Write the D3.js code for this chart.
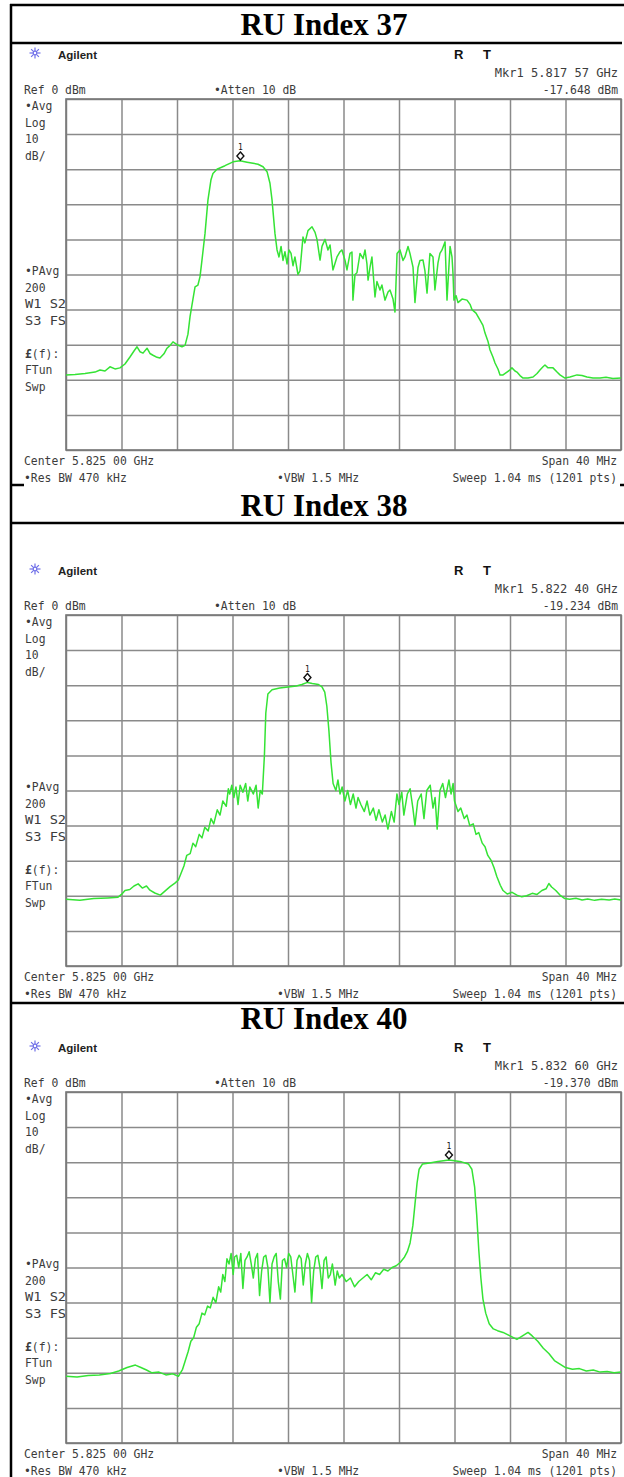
<!DOCTYPE html>
<html><head><meta charset="utf-8">
<script src="https://cdn.jsdelivr.net/npm/d3@7"></script>
<style>body{margin:0;background:#fff}svg{display:block}</style>
</head><body>
<script>
// ---------- data ----------
const titles = ["RU Index 37", "RU Index 38", "RU Index 40"];
const markerFreq = [-7.43, -2.60, 7.60];          // MHz from centre 5.825 GHz
const markerLevel = [-17.648, -19.234, -19.370];   // dBm
const markerFreqText = ["5.817 57 GHz", "5.822 40 GHz", "5.832 60 GHz"];
const markerLevelText = ["-17.648 dBm", "-19.234 dBm", "-19.370 dBm"];
const xTicks = [-20, -16, -12, -8, -4, 0, 4, 8, 12, 16, 20];       // MHz, 4 MHz/div
const yTicks = [0, -10, -20, -30, -40, -50, -60, -70, -80, -90, -100]; // dBm, 10 dB/div

const ru37Freq = [-20.00,-19.35,-18.63,-17.91,-17.55,-17.19,-16.83,-16.47,-16.11,-15.75,-15.39,-15.10,-14.88,-14.67,-14.45,-14.16,-13.95,-13.73,-13.44,-13.23,-12.94,-12.72,-12.50,-12.29,-12.00,-11.64,-11.42,-11.21,-11.06,-10.85,-10.70,-10.49,-10.34,-10.20,-9.98,-9.77,-9.55,-9.41,-9.12,-8.54,-7.96,-7.46,-6.95,-6.52,-6.16,-5.80,-5.51,-5.30,-5.15,-4.94,-4.79,-4.65,-4.50,-4.36,-4.22,-4.07,-3.93,-3.78,-3.64,-3.50,-3.28,-3.14,-2.92,-2.78,-2.56,-2.27,-2.05,-1.91,-1.69,-1.55,-1.33,-1.12,-0.97,-0.76,-0.47,-0.25,-0.11,0.11,0.25,0.47,0.61,0.68,0.83,0.97,1.19,1.41,1.55,1.69,1.77,1.91,2.05,2.27,2.41,2.63,2.77,2.99,3.21,3.35,3.57,3.71,3.86,4.07,4.29,4.43,4.65,4.79,5.01,5.15,5.37,5.51,5.73,5.87,6.02,6.23,6.45,6.59,6.81,6.95,7.10,7.32,7.46,7.68,7.82,7.89,7.96,8.11,8.25,8.54,8.90,9.12,9.26,9.55,9.84,10.05,10.20,10.41,10.56,10.77,10.92,11.14,11.28,11.50,11.78,12.00,12.14,12.36,12.50,12.72,12.94,13.30,13.66,13.95,14.16,14.38,14.52,14.74,15.10,15.39,15.60,15.96,16.32,16.83,17.19,17.55,17.98,18.49,18.92,19.42,20.00];
const ru37Level = [-78.6,-78.5,-78.2,-77.8,-77.2,-77.5,-76.3,-76.9,-76.6,-75.5,-73.5,-71.8,-70.6,-72.0,-72.4,-71.0,-72.5,-73.0,-73.6,-73.8,-72.6,-71.0,-70.2,-69.2,-70.0,-70.6,-70.2,-67.0,-62.0,-57.0,-53.5,-53.0,-50.6,-45.9,-38.3,-28.8,-23.0,-21.2,-20.0,-19.0,-17.9,-17.6,-18.0,-18.3,-18.6,-19.3,-20.7,-24.0,-28.8,-38.3,-43.0,-45.0,-42.0,-46.0,-43.5,-47.0,-43.0,-44.0,-47.5,-45.0,-50.0,-49.0,-39.3,-41.0,-37.5,-36.4,-38.0,-40.0,-45.9,-42.0,-40.0,-43.0,-41.6,-48.7,-45.0,-43.5,-43.0,-46.0,-48.7,-44.0,-43.6,-57.3,-50.0,-49.5,-44.0,-45.5,-43.0,-47.0,-51.6,-48.0,-45.0,-56.4,-52.0,-54.4,-53.0,-57.3,-55.0,-54.4,-57.0,-60.7,-44.0,-43.0,-46.0,-45.0,-42.0,-44.0,-47.9,-58.0,-48.0,-46.0,-45.9,-49.0,-55.3,-44.0,-45.0,-54.4,-46.7,-44.0,-43.0,-40.7,-57.3,-42.0,-45.0,-49.6,-57.3,-56.0,-58.0,-57.0,-57.3,-58.5,-60.0,-61.0,-63.0,-64.5,-66.7,-69.0,-71.5,-73.5,-75.2,-77.0,-78.6,-78.6,-77.8,-77.2,-76.6,-77.5,-77.8,-78.8,-79.5,-79.5,-79.2,-78.2,-77.2,-76.3,-75.8,-76.6,-76.6,-77.8,-78.6,-79.5,-79.2,-78.6,-78.8,-79.2,-79.5,-79.5,-79.3,-79.6,-79.5];

const ru38Freq = [-20.0,-19.0,-18.0,-17.0,-16.25,-16.0,-15.75,-15.4,-15.1,-14.8,-14.5,-14.2,-13.95,-13.6,-13.2,-12.85,-12.5,-12.15,-11.9,-11.7,-11.5,-11.3,-11.05,-10.85,-10.65,-10.4,-10.2,-10.0,-9.75,-9.55,-9.35,-9.1,-8.9,-8.7,-8.45,-8.3,-8.2,-8.05,-7.9,-7.75,-7.6,-7.45,-7.25,-7.05,-6.9,-6.75,-6.5,-6.3,-6.15,-6.0,-5.85,-5.7,-5.6,-5.45,-5.15,-4.6,-4.0,-3.4,-3.0,-2.6,-2.25,-1.8,-1.55,-1.35,-1.2,-1.05,-0.9,-0.75,-0.55,-0.4,-0.25,-0.1,0.1,0.3,0.5,0.7,0.9,1.05,1.25,1.5,1.7,1.9,2.15,2.35,2.55,2.8,3.0,3.2,3.45,3.65,3.85,4.0,4.2,4.35,4.6,4.8,5.0,5.15,5.35,5.6,5.8,6.0,6.25,6.45,6.6,6.75,6.95,7.15,7.35,7.6,7.75,7.9,8.0,8.25,8.45,8.7,8.9,9.1,9.35,9.55,9.75,10.0,10.2,10.4,10.65,10.85,11.05,11.3,11.5,11.8,12.15,12.5,12.85,13.2,13.6,13.95,14.3,14.6,14.8,15.0,15.3,15.6,15.95,16.3,16.75,17.2,17.6,18.1,18.6,19.15,19.55,20.0];
const ru38Level = [-81,-81.3,-80.8,-80.6,-80.4,-79.6,-78.5,-78.2,-77.2,-76.6,-77.8,-77.2,-78.4,-79.2,-79.8,-78.6,-77.4,-76.4,-75.5,-73.5,-71.5,-68.5,-68,-65,-66,-62.5,-63.5,-60.5,-61.5,-58,-59.5,-55.5,-57,-53,-54.5,-49.5,-51,-48.5,-52,-49,-54,-48.5,-50.5,-48,-53,-49,-51,-48.5,-55,-50,-51,-40,-28,-22.5,-21.3,-20.8,-20.5,-20.2,-19.8,-19.2,-19.5,-19.8,-20.5,-22,-26,-33,-42,-48,-50,-47,-51,-49,-53,-50,-54,-51,-55,-52,-54,-56,-53,-57,-55,-58.5,-55.5,-59,-57,-61,-56,-59,-51,-54,-50.5,-57,-51,-49.5,-55,-60,-53,-51,-58,-50,-48.5,-55,-52,-61,-50,-48,-52,-47,-51,-48,-53,-56,-55,-58,-57,-60,-59.5,-62.5,-62,-65,-66,-68.5,-70,-72,-74.5,-77,-78.5,-79.5,-79,-79.8,-80.3,-80,-79.3,-79.6,-78.5,-78,-76.5,-77.5,-78.5,-79.8,-80.8,-81,-80.7,-81.2,-80.9,-81.3,-81,-81.2,-80.9,-81.2];

const ru40Freq = [-20.0,-19.2,-18.4,-17.6,-16.8,-16.2,-15.6,-15.0,-14.6,-14.2,-13.8,-13.3,-12.8,-12.3,-11.9,-11.6,-11.4,-11.2,-11.0,-10.8,-10.6,-10.4,-10.2,-10.0,-9.8,-9.6,-9.4,-9.2,-9.0,-8.85,-8.7,-8.55,-8.4,-8.25,-8.1,-7.95,-7.85,-7.7,-7.55,-7.4,-7.25,-7.1,-6.95,-6.8,-6.65,-6.5,-6.35,-6.2,-6.05,-5.9,-5.75,-5.6,-5.45,-5.3,-5.15,-5.0,-4.85,-4.7,-4.55,-4.4,-4.25,-4.1,-3.95,-3.8,-3.65,-3.5,-3.35,-3.2,-3.05,-2.9,-2.75,-2.6,-2.45,-2.3,-2.15,-2.0,-1.85,-1.7,-1.55,-1.4,-1.25,-1.1,-0.95,-0.8,-0.6,-0.45,-0.3,-0.1,0.2,0.5,0.8,1.1,1.4,1.7,2.0,2.3,2.6,2.9,3.2,3.5,3.8,4.1,4.4,4.6,4.8,5.0,5.15,5.3,5.45,5.7,6.2,6.8,7.2,7.6,8.0,8.5,9.0,9.25,9.45,9.6,9.75,9.9,10.05,10.25,10.5,10.8,11.1,11.5,12.0,12.5,12.9,13.3,13.6,14.0,14.4,14.8,15.2,15.6,16.0,16.5,17.0,17.5,18.0,18.5,19.0,19.5,20.0];
const ru40Level = [-81,-81.2,-80.8,-80.6,-80.2,-79.5,-78.5,-77.8,-78.5,-79.2,-80,-79.8,-80.6,-80.3,-81,-79,-76.5,-74,-71,-70,-67,-66,-63,-63.5,-61,-61.5,-58.5,-60,-55.5,-57,-52,-54,-47.5,-49,-46,-52,-47,-46.5,-50,-46,-56,-48,-47,-45.5,-49,-53,-47.5,-46,-58,-51,-47,-46.5,-50,-60,-49,-47,-46,-54,-59,-48,-47.5,-50,-46,-47,-52,-57,-48,-46.5,-47.5,-55,-49,-46,-48,-60,-51,-47,-46.5,-50,-56,-48,-47,-53,-52,-49,-55,-51,-53,-52,-54,-53,-55.5,-54,-53,-52,-53.5,-51.5,-52,-50.5,-51,-50,-49.5,-48.5,-47,-45.5,-43,-38,-32,-26,-22,-20.5,-20.2,-19.8,-19.6,-19.37,-19.6,-19.9,-20.5,-22,-27,-35,-45,-53,-59,-63,-66,-67.5,-68,-68.5,-69.5,-70.5,-69.5,-68.5,-69.5,-71,-73,-74.5,-76.5,-77.5,-78.5,-79,-78.8,-79.5,-79.2,-79.8,-79.6,-80,-79.8];

const traceFreqs = [ru37Freq, ru38Freq, ru40Freq];
const traceLevels = [ru37Level, ru38Level, ru40Level];

const leftLabels = ["•Avg", "Log", "10", "dB/", "", "", "", "", "", "", "•PAvg", "200", "W1  S2", "S3  FS", "", "£(f):", "FTun", "Swp"];
const headerTexts = ["Ref 0 dBm", "•Atten 10 dB"];
const footerLeft = ["Center 5.825 00 GHz", "•Res BW 470 kHz"];
const footerMid = "•VBW 1.5 MHz";
const footerRight = ["Span 40 MHz", "Sweep 1.04 ms (1201 pts)"];

// ---------- layout ----------
const W = 624, H = 1477;
const gridLeft = 66, gridRight = 621, gridH = 351;
const gridTops = [99, 615, 1092];
const titleBaselines = [35, 516, 1029];
const green = "#35e335";
const txtCol = "#3c3c3c";
const mono = "'DejaVu Sans Mono', 'Liberation Mono', monospace";
const charW = 6.85;

const svg = d3.select("body").append("svg").attr("width", W).attr("height", H);

// monospace screen text; right-aligned strings are placed from their computed left edge
function monoText(g, x, y, s, alignRight) {
  const len = s.length * charW;
  const t = g.append("text").attr("x", alignRight ? x - len : x).attr("y", y)
    .attr("font-family", mono).attr("font-size", 11.6).attr("fill", txtCol)
    .attr("textLength", len).attr("lengthAdjust", "spacingAndGlyphs");
  if (s.startsWith("£")) {
    t.append("tspan").attr("font-weight", "bold").text("£");
    t.append("tspan").text(s.slice(1));
  } else t.text(s);
  return t;
}

// ---------- table lines ----------
const lines = svg.append("g").attr("stroke", "#000").attr("stroke-width", 2.5);
lines.append("line").attr("x1", 10).attr("x2", W).attr("y1", 5).attr("y2", 5);
lines.append("line").attr("x1", 11).attr("x2", 11).attr("y1", 4).attr("y2", H);
lines.append("line").attr("x1", 11).attr("x2", 622).attr("y1", 43).attr("y2", 43);
lines.append("line").attr("x1", 11).attr("x2", 24).attr("y1", 485).attr("y2", 485);
lines.append("line").attr("x1", 620).attr("x2", W).attr("y1", 485).attr("y2", 485);
lines.append("line").attr("x1", 11).attr("x2", W).attr("y1", 523).attr("y2", 523);
lines.append("line").attr("x1", 11).attr("x2", W).attr("y1", 1003).attr("y2", 1003);

// ---------- panels ----------
titles.forEach((title, i) => {
  svg.append("text").attr("x", 324).attr("y", titleBaselines[i])
    .attr("text-anchor", "middle")
    .attr("font-family", "'Liberation Serif', 'Times New Roman', serif")
    .attr("font-weight", "bold").attr("font-size", 31).attr("fill", "#000")
    .text(title);

  const gt = gridTops[i], gb = gt + gridH;
  const g = svg.append("g");
  const x = d3.scaleLinear().domain([-20, 20]).range([gridLeft, gridRight]);
  const y = d3.scaleLinear().domain([-100, 0]).range([gb, gt]);

  // header
  const star = g.append("g").attr("transform", `translate(35,${gt - 46})`)
    .attr("stroke", "#6f6fe8").attr("stroke-width", 1.2);
  d3.range(8).forEach(k => {
    const a = k * Math.PI / 4;
    star.append("line").attr("x1", Math.cos(a) * 2).attr("y1", Math.sin(a) * 2)
      .attr("x2", Math.cos(a) * 5.5).attr("y2", Math.sin(a) * 5.5);
  });
  star.append("circle").attr("r", 1.8).attr("fill", "none");
  g.append("text").attr("x", 58).attr("y", gt - 40)
    .attr("font-family", "'Liberation Sans', Arial, sans-serif").attr("font-weight", "bold")
    .attr("font-size", 11.5).attr("fill", "#222").text("Agilent");
  g.append("text").attr("x", 454).attr("y", gt - 40)
    .attr("font-family", "'Liberation Sans', Arial, sans-serif").attr("font-weight", "bold")
    .attr("font-size", 13).attr("fill", "#111").text("R");
  g.append("text").attr("x", 483).attr("y", gt - 40)
    .attr("font-family", "'Liberation Sans', Arial, sans-serif").attr("font-weight", "bold")
    .attr("font-size", 13).attr("fill", "#111").text("T");
  monoText(g, 618, gt - 22, "Mkr1  " + markerFreqText[i], true);
  monoText(g, 24, gt - 5, headerTexts[0]);
  monoText(g, 214, gt - 5, headerTexts[1]);
  monoText(g, 618, gt - 5, markerLevelText[i], true);

  // left labels
  leftLabels.forEach((s, k) => {
    if (s) monoText(g, 25, gt + 11 + k * 16.5, s);
  });

  // footer
  monoText(g, 24, gb + 15, footerLeft[0]);
  monoText(g, 24, gb + 32, footerLeft[1]);
  monoText(g, 277, gb + 32, footerMid);
  monoText(g, 617, gb + 15, footerRight[0], true);
  monoText(g, 617, gb + 32, footerRight[1], true);

  // grid via axes
  const gx = g.append("g").attr("transform", `translate(0,${gb})`)
    .call(d3.axisBottom(x).tickValues(xTicks).tickSize(-gridH).tickFormat(""));
  const gy = g.append("g").attr("transform", `translate(${gridLeft},0)`)
    .call(d3.axisLeft(y).tickValues(yTicks).tickSize(-(gridRight - gridLeft)).tickFormat(""));
  [gx, gy].forEach(a => {
    a.select(".domain").remove();
    a.selectAll(".tick line").attr("stroke", "#8a8a8a").attr("stroke-width", 1.5);
  });
  g.append("rect").attr("x", gridLeft).attr("y", gt).attr("width", gridRight - gridLeft)
    .attr("height", gridH).attr("fill", "none").attr("stroke", "#777").attr("stroke-width", 1.6);

  // trace
  const pts = traceFreqs[i].map((f, k) => [f, traceLevels[i][k]]);
  g.append("path").datum(pts)
    .attr("fill", "none").attr("stroke", green).attr("stroke-width", 1.5)
    .attr("stroke-linejoin", "round")
    .attr("d", d3.line().x(d => x(d[0])).y(d => y(d[1])));

  // marker
  const mx = x(markerFreq[i]), my = y(markerLevel[i]);
  g.append("path").attr("d", `M${mx},${my - 9} L${mx + 3.5},${my - 5} L${mx},${my - 1} L${mx - 3.5},${my - 5} Z`)
    .attr("fill", "none").attr("stroke", "#111").attr("stroke-width", 1.4);
  g.append("text").attr("x", mx).attr("y", my - 11).attr("text-anchor", "middle")
    .attr("font-family", mono).attr("font-size", 8).attr("fill", "#111").text("1");
});
</script>
</body></html>
